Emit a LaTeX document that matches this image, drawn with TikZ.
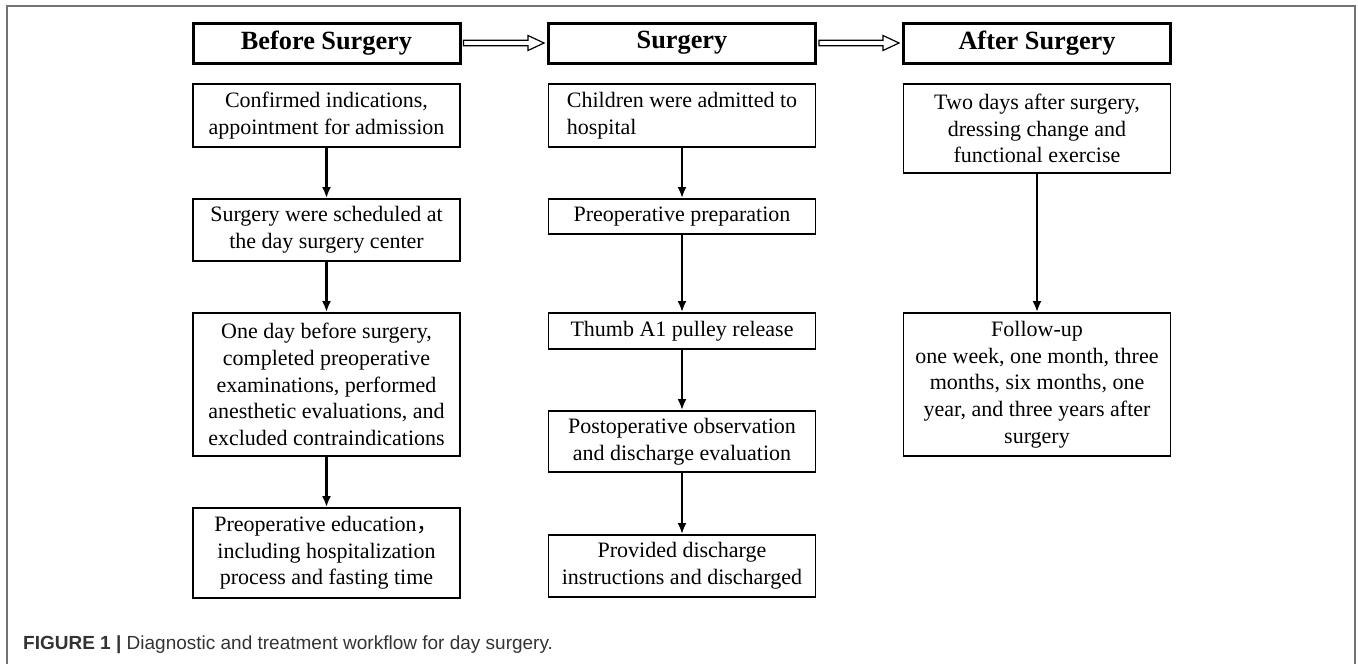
\documentclass[tikz,border=0pt]{standalone}
\usepackage{fontspec}
\setmainfont{Liberation Serif}
\setsansfont{Liberation Sans}
\newfontfamily\cjk{Noto Sans CJK SC}
\usetikzlibrary{arrows.meta,calc}
\begin{document}
\begin{tikzpicture}[x=1pt,y=-1pt,
  box/.style={draw,line width=1.8pt,minimum width=267pt,inner sep=0pt,align=center,
    font=\fontsize{22}{26.7}\selectfont},
  headbox/.style={draw,line width=3pt,minimum width=267pt,minimum height=40pt,inner sep=0pt,
    font=\fontsize{26.3}{30}\selectfont\bfseries},
  flow/.style={line width=2.6pt,-{Latex[length=11pt,width=9pt]}},
  hollow/.style={draw,line width=1.2pt,fill=white,line join=miter},
  frame/.style={draw=black!55,line width=1.6pt}
]
\useasboundingbox (0,0) rectangle (1358,664);
\draw[frame] (7,664) -- (7,6) -- (1355,6) -- (1355,664);

% headers
\node[headbox] (h1) at (326.5,43) {Before Surgery};
\node[headbox] (h2) at (682,43) {Surgery};
\node[headbox] (h3) at (1037,43) {After Surgery};

% left column
\node[box,minimum height=63pt] (l1) at (326.5,115.5) {Confirmed indications,\\appointment for admission};
\node[box,minimum height=62pt] (l2) at (326.5,230) {Surgery were scheduled at\\the day surgery center};
\node[box,minimum height=143pt] (l3) at (326.5,384.5) {One day before surgery,\\completed preoperative\\examinations, performed\\anesthetic evaluations, and\\excluded contraindications};
\node[box,minimum height=90pt] (l4) at (326.5,553) {Preoperative education{\cjk ，}\\including hospitalization\\process and fasting time};

% middle column
\node[box,minimum height=63pt,align=left] (m1) at (682,115.5) {Children were admitted to\\hospital};
\node[box,minimum height=35pt] (m2) at (682,216.5) {Preoperative preparation};
\node[box,minimum height=36pt] (m3) at (682,331) {Thumb A1 pulley release};
\node[box,minimum height=61pt] (m4) at (682,441.5) {Postoperative observation\\and discharge evaluation};
\node[box,minimum height=62pt] (m5) at (682,566) {Provided discharge\\instructions and discharged};

% right column
\node[box,minimum height=89pt] (r1) at (1037,128.5) {Two days after surgery,\\dressing change and\\functional exercise};
\node[box,minimum height=143pt] (r2) at (1037,384.5) {Follow-up\\one week, one month, three\\months, six months, one\\year, and three years after\\surgery};

% vertical arrows
\draw[flow] (l1) -- (l2);
\draw[flow] (l2) -- (l3);
\draw[flow] (l3) -- (l4);
\draw[flow] (m1) -- (m2);
\draw[flow] (m2) -- (m3);
\draw[flow] (m3) -- (m4);
\draw[flow] (m4) -- (m5);
\draw[flow] (r1) -- (r2);

% hollow header arrows
\draw[hollow] ($(h1.east)+(2,-2.7)$) -- ($(h2.west)+(-19,-2.7)$) -- ($(h2.west)+(-19,-7.5)$)
  -- ($(h2.west)+(-3,0)$) -- ($(h2.west)+(-19,7.5)$) -- ($(h2.west)+(-19,2.7)$)
  -- ($(h1.east)+(2,2.7)$) -- cycle;
\draw[hollow] ($(h2.east)+(2,-2.7)$) -- ($(h3.west)+(-19,-2.7)$) -- ($(h3.west)+(-19,-7.5)$)
  -- ($(h3.west)+(-3,0)$) -- ($(h3.west)+(-19,7.5)$) -- ($(h3.west)+(-19,2.7)$)
  -- ($(h2.east)+(2,2.7)$) -- cycle;

% caption
\node[anchor=base west,inner sep=0pt,text=black!80,font=\sffamily\fontsize{19}{22}\selectfont] (cap) at (23,649)
  {\textbf{FIGURE 1 |} Diagnostic and treatment workflow for day surgery.};
\end{tikzpicture}
\end{document}
